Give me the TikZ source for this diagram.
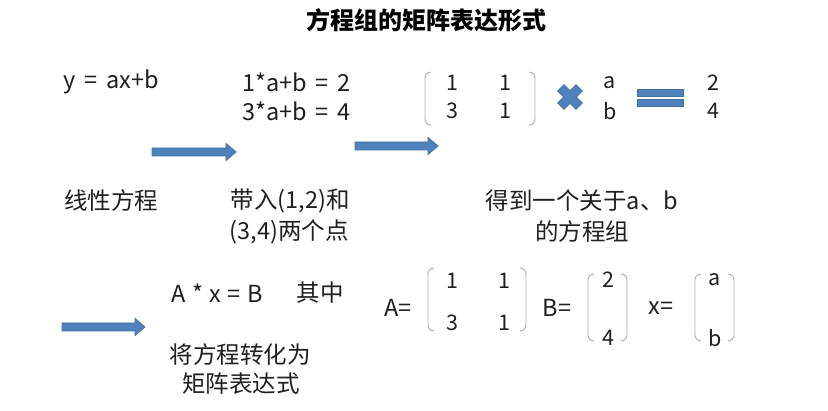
\documentclass[tikz,border=0pt]{standalone}
\usepackage{fontspec}
\setmainfont{Noto Sans CJK SC}
\definecolor{arrowblue}{HTML}{4F81BD}
\definecolor{arrowedge}{HTML}{41719C}
\definecolor{brkgray}{HTML}{A8AFB8}
\newcommand\wsp{\hspace{0.38em}}
\newcommand\nsp{\hspace{0.28em}}
\begin{document}
\begin{tikzpicture}[x=1pt,y=-1pt,
  sym/.style={font=\fontsize{21.5}{24}\selectfont, inner sep=0pt, text=black!88},
  txt/.style={font=\fontsize{23.5}{26}\selectfont, inner sep=0pt, text=black!88},
  ttl/.style={font=\fontsize{24}{26}\selectfont\bfseries, inner sep=0pt, text=black},
  brk/.style={draw=brkgray, line width=0.9pt, rounded corners=6pt},
  blockarrow/.style={fill=arrowblue, draw=arrowedge, line width=0.8pt, line join=miter}
]
\useasboundingbox[fill=white] (0,0) rectangle (828,411);

% title
\node[ttl] (title) at (426,20) {方程组的矩阵表达形式};

% first row
\node[txt,anchor=west] (lin) at (63,82) {y\wsp=\wsp ax+b};
\node[txt,anchor=west] (eq1) at (242,82) {1*a+b\wsp=\wsp 2};
\node[txt,anchor=west] (eq2) at (242,111) {3*a+b\wsp=\wsp 4};

% matrix 1
\draw[brk] (431,72) -- (425,72) -- (425,125) -- (431,125);
\draw[brk] (529,72) -- (535,72) -- (535,125) -- (529,125);
\node[sym] (m11) at (452,83) {1};
\node[sym] (m12) at (505,83) {1};
\node[sym] (m21) at (452,111) {3};
\node[sym] (m22) at (505,111) {1};

% multiplication cross
\begin{scope}[shift={(570,97)}, rotate=45]
  \draw[blockarrow] (4.5,4.5) -- (4.5,13) -- (-4.5,13) -- (-4.5,4.5) -- (-13,4.5) -- (-13,-4.5)
    -- (-4.5,-4.5) -- (-4.5,-13) -- (4.5,-13) -- (4.5,-4.5) -- (13,-4.5) -- (13,4.5) -- cycle;
\end{scope}

\node[sym] (va) at (610,83) {a};
\node[sym] (vb) at (610,111) {b};

% equals bars
\draw[blockarrow] (637,89) rectangle (683,96);
\draw[blockarrow] (637,99) rectangle (683,106);

\node[sym] (r1) at (713,83) {2};
\node[sym] (r2) at (713,111) {4};

% block arrows
\newcommand\blockarr[3]{%
  \draw[blockarrow] (#1,#3-4) -- (#2-10,#3-4) -- (#2-10,#3-8.5) -- (#2,#3) -- (#2-10,#3+8.5)
    -- (#2-10,#3+4) -- (#1,#3+4) -- cycle;}
\blockarr{152}{236}{152}
\blockarr{355}{438}{146}
\blockarr{62}{145}{327}

% second row labels
\node[txt] (l1) at (111,201) {线性方程};
\node[txt] (l2a) at (290,201) {带入(1,2)和};
\node[txt] (l2b) at (289,232) {(3,4)两个点};
\node[txt] (l3a) at (582,201) {得到一个关于a、b};
\node[txt] (l3b) at (582,232) {的方程组};

% third row
\node[txt,anchor=west] (axb) at (171,293) {A\nsp*\nsp x\nsp=\nsp B};
\node[txt] (qz) at (320,293) {其中};
\node[txt] (c1) at (240,355) {将方程转化为};
\node[txt] (c2) at (241,384) {矩阵表达式};

\node[txt] (Aeq) at (398,308) {A=};
\draw[brk] (434,268) -- (428,268) -- (428,331) -- (434,331);
\draw[brk] (520,268) -- (526,268) -- (526,331) -- (520,331);
\node[sym] (a11) at (452,281) {1};
\node[sym] (a12) at (504,281) {1};
\node[sym] (a21) at (452,323) {3};
\node[sym] (a22) at (504,323) {1};

\node[txt] (Beq) at (557,308) {B=};
\draw[brk] (594,274) -- (588,274) -- (588,341) -- (594,341);
\draw[brk] (621,274) -- (627,274) -- (627,341) -- (621,341);
\node[sym] (b1) at (608,280) {2};
\node[sym] (b2) at (608,338) {4};

\node[txt] (xeq) at (661,308) {x=};
\draw[brk] (701,274) -- (695,274) -- (695,341) -- (701,341);
\draw[brk] (728,274) -- (734,274) -- (734,341) -- (728,341);
\node[sym] (x1) at (715,280) {a};
\node[sym] (x2) at (715,338) {b};
\end{tikzpicture}
\end{document}
